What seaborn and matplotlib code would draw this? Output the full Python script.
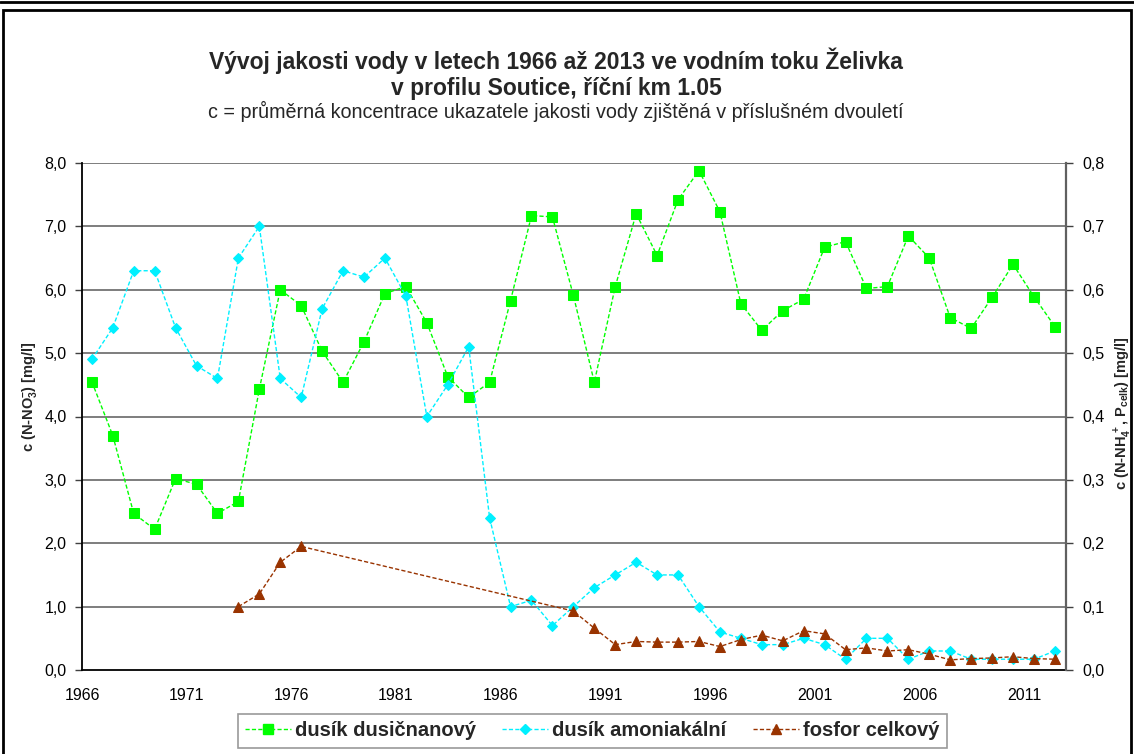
import numpy as np
import pandas as pd
import matplotlib
matplotlib.use("Agg")
import matplotlib.pyplot as plt
import seaborn as sns
from matplotlib.patches import Rectangle
from matplotlib.lines import Line2D

sns.set_style("white")
plt.rcParams['font.family'] = ['Liberation Sans', 'DejaVu Sans']
plt.rcParams['mathtext.fontset'] = 'custom'
plt.rcParams['mathtext.rm'] = 'Liberation Sans:bold'
plt.rcParams['mathtext.bf'] = 'Liberation Sans:bold'
plt.rcParams['mathtext.it'] = 'Liberation Sans:bold'
plt.rcParams['mathtext.default'] = 'bf'

# ---------------- data ----------------
years = list(range(1966, 2013))

nitrate = [4.55, 3.70, 2.47, 2.22, 3.02, 2.93, 2.47, 2.66, 4.43, 6.00,
           5.75, 5.03, 4.54, 5.18, 5.94, 6.05, 5.48, 4.63, 4.30, 4.54,
           5.83, 7.17, 7.15, 5.91, 4.54, 6.05, 7.20, 6.54, 7.42, 7.88,
           7.23, 5.78, 5.36, 5.67, 5.85, 6.67, 6.76, 6.02, 6.05, 6.85,
           6.50, 5.56, 5.39, 5.88, 6.40, 5.89, 5.42]

ammonium = [0.49, 0.54, 0.63, 0.63, 0.54, 0.48, 0.46, 0.65, 0.70, 0.46,
            0.43, 0.57, 0.63, 0.62, 0.65, 0.59, 0.40, 0.45, 0.51, 0.24,
            0.10, 0.11, 0.07, 0.10, 0.13, 0.15, 0.17, 0.15, 0.15, 0.10,
            0.06, 0.05, 0.04, 0.04, 0.05, 0.04, 0.017, 0.05, 0.05, 0.017,
            0.03, 0.03, 0.017, 0.017, 0.017, 0.017, 0.03]

phosphorus = [np.nan, np.nan, np.nan, np.nan, np.nan, np.nan, np.nan, 0.10, 0.12, 0.17,
              0.195, np.nan, np.nan, np.nan, np.nan, np.nan, np.nan, np.nan, np.nan, np.nan,
              np.nan, np.nan, np.nan, 0.093, 0.066, 0.040, 0.045, 0.044, 0.044, 0.045,
              0.037, 0.048, 0.055, 0.046, 0.062, 0.057, 0.032, 0.035, 0.030, 0.032,
              0.025, 0.016, 0.018, 0.019, 0.021, 0.018, 0.017]

series_names = ["dusík dusičnanový", "dusík amoniakální", "fosfor celkový"]
title_l1 = "Vývoj jakosti vody v letech 1966 až 2013 ve vodním toku Želivka"
title_l2 = "v profilu Soutice, říční km 1.05"
subtitle = "c = průměrná koncentrace ukazatele jakosti vody zjištěná v příslušném dvouletí"
left_ticks = [0, 1, 2, 3, 4, 5, 6, 7, 8]
right_ticks = [0.0, 0.1, 0.2, 0.3, 0.4, 0.5, 0.6, 0.7, 0.8]
x_ticks = [1966, 1971, 1976, 1981, 1986, 1991, 1996, 2001, 2006, 2011]

xpos = [y + 0.47 for y in years]
df = pd.DataFrame({"x": xpos, "no3": nitrate, "nh4": ammonium, "p": phosphorus})

# ---------------- figure ----------------
W, H = 1134, 754
fig = plt.figure(figsize=(W / 100, H / 100), dpi=100)
ax = fig.add_axes([82 / W, 1 - 670 / H, (1066 - 82) / W, (670 - 163) / H])
ax2 = ax.twinx()

GREEN = "#00FF00"
CYAN = "#00F0FF"
BROWN = "#993300"
dash = (0, (3, 1.6))

sns.lineplot(data=df, x="x", y="no3", ax=ax, color=GREEN, lw=1.0, ls=dash,
             marker="s", markersize=7.5, markeredgecolor=GREEN, zorder=5, legend=False)
sns.lineplot(data=df, x="x", y="nh4", ax=ax2, color=CYAN, lw=1.0, ls=dash,
             marker="D", markersize=5.5, markeredgecolor=CYAN, zorder=4, legend=False)
sns.lineplot(data=df.dropna(subset=["p"]), x="x", y="p", ax=ax2, color=BROWN, lw=1.0, ls=dash,
             marker="^", markersize=7, markeredgecolor=BROWN, zorder=6, legend=False)

ax.set_xlim(1966, 2013)
ax.set_ylim(0, 8)
ax2.set_ylim(0, 0.8)
ax.set_xticks(x_ticks)
ax.set_xticklabels([str(t) for t in x_ticks])
ax.set_yticks(left_ticks)
ax.set_yticklabels([f"{v:.1f}".replace(".", ",") for v in left_ticks])
ax2.set_yticks(right_ticks)
ax2.set_yticklabels([f"{v:.1f}".replace(".", ",") for v in right_ticks])

for a in (ax, ax2):
    a.set_xlabel("")
    a.tick_params(axis="both", direction="out", length=5, width=1, color="#404040",
                  labelsize=11.5, labelcolor="black")
ax.tick_params(axis="x", pad=8)
ax.tick_params(axis="y", pad=6)
ax2.tick_params(axis="y", pad=7)

ax.grid(False)
ax2.grid(False)
for v in left_ticks[1:]:
    ax.axhline(v, color="#5a5a5a", lw=1.1, zorder=1)

for s in ("left", "bottom"):
    ax.spines[s].set_color("black")
    ax.spines[s].set_linewidth(1.3)
ax.spines["top"].set_visible(False)
ax.spines["right"].set_visible(False)
ax2.spines["top"].set_visible(False)
ax2.spines["left"].set_visible(False)
ax2.spines["bottom"].set_visible(False)
ax2.spines["right"].set_color("#606060")
ax2.spines["right"].set_linewidth(1.6)

ax.set_ylabel(r"c (N-NO$_3^{-}$) [mg/l]", fontsize=10.5, fontweight="bold")
ax.yaxis.set_label_coords((39 - 82) / 984, (670 - 397) / 507)
ax2.set_ylabel(r"c (N-NH$_4^{\,+}$, P$_{celk}$) [mg/l]", fontsize=10.5, fontweight="bold",
               rotation=90)
ax2.yaxis.set_label_coords((1113 - 82) / 984, (670 - 413) / 507)

# titles
fig.text(556 / W, 1 - 61 / H, title_l1, ha="center", va="center", fontsize=16.5, fontweight="bold")
fig.text(556 / W, 1 - 88 / H, title_l2, ha="center", va="center", fontsize=16.5, fontweight="bold")
fig.text(556 / W, 1 - 111 / H, subtitle, ha="center", va="center", fontsize=14.2)

# legend
handles = [
    Line2D([], [], color=GREEN, lw=1.0, ls=dash, marker="s", markersize=7.5, markeredgecolor=GREEN),
    Line2D([], [], color=CYAN, lw=1.0, ls=dash, marker="D", markersize=5.5, markeredgecolor=CYAN),
    Line2D([], [], color=BROWN, lw=1.0, ls=dash, marker="^", markersize=7, markeredgecolor=BROWN),
]
leg = fig.legend(handles, series_names, loc="center", bbox_to_anchor=(592 / W, 1 - 731 / H),
                 ncol=3, frameon=True, fancybox=False, prop={"weight": "bold", "size": 14.5},
                 handlelength=2.3, columnspacing=1.3, handletextpad=0.2, borderpad=0.35,
                 borderaxespad=0)
leg.get_frame().set_edgecolor("#808080")
leg.get_frame().set_linewidth(1.2)

# outer frame
fig.add_artist(Rectangle((3 / W, -0.01), (1131 - 3) / W, (H - 10) / H + 0.01, transform=fig.transFigure,
                         fill=False, edgecolor="black", lw=2))
fig.add_artist(Line2D([0, 1], [1 - 1.5 / H, 1 - 1.5 / H], transform=fig.transFigure, color="black", lw=2))

fig.savefig("out.png", dpi=100)
